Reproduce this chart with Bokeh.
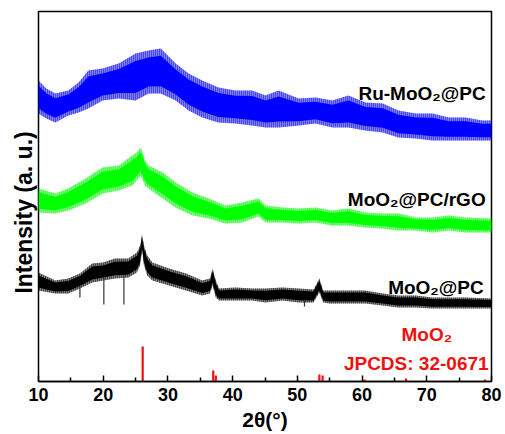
import numpy as np
from bokeh.plotting import figure
from bokeh.models import Range1d, FixedTicker, Label
from bokeh.embed import file_html
from bokeh.resources import INLINE

# ---- data (intensity in arbitrary units) ----
blue_x = [10.0, 11.2, 12.6, 14.6, 16.2, 17.7, 19.9, 22.4, 25.0, 27.0, 28.9, 31.2, 33.2, 35.3, 37.8, 40.4,
          43.0, 45.1, 47.1, 50.2, 52.8, 55.4, 57.9, 60.5, 63.2, 65.6, 68.3, 70.9, 73.4, 76.0, 78.6, 80.0]
blue_hi = [301, 293, 288, 291, 299, 311, 313, 318, 328, 331, 333, 318, 308, 301, 294, 291,
           291, 286, 291, 283, 284, 281, 286, 279, 278, 271, 268, 268, 264, 264, 261, 261]
blue_lo = [268, 263, 259, 266, 269, 273, 281, 283, 281, 288, 288, 281, 271, 264, 259, 258,
           256, 254, 254, 256, 258, 254, 254, 251, 249, 244, 243, 241, 241, 241, 241, 241]

green_x = [10.0, 12.6, 14.6, 17.3, 19.9, 22.4, 24.5, 25.2, 25.8, 26.5, 27.0, 29.2, 31.2, 33.8, 36.3, 38.9,
           41.5, 44.0, 45.1, 47.7, 50.2, 52.8, 55.4, 57.9, 60.5, 63.2, 65.6, 68.3, 70.9, 73.4, 76.0, 80.0]
green_hi = [193, 188, 193, 203, 214, 216, 226, 229, 234, 221, 216, 209, 199, 189, 183, 176,
            179, 183, 176, 174, 173, 174, 171, 173, 169, 168, 168, 164, 164, 166, 164, 163]
green_lo = [169, 168, 171, 178, 188, 191, 196, 201, 206, 196, 193, 183, 174, 166, 163, 158,
            159, 165, 159, 159, 158, 159, 156, 156, 154, 153, 151, 151, 149, 151, 149, 149]

black_x = [10.0, 12.6, 14.6, 16.4, 18.3, 20.0, 21.8, 23.9, 25.2, 25.7, 26.0, 26.3, 26.8, 27.6, 30.2, 32.8,
           35.3, 36.5, 36.9, 37.4, 37.9, 40.4, 43.0, 45.1, 47.7, 50.2, 52.5, 53.4, 54.0, 55.0, 57.9, 60.5,
           63.2, 65.6, 68.3, 70.9, 76.0, 80.0]
black_hi = [109, 101, 103, 108, 118, 119, 123, 123, 129, 136, 147, 136, 126, 119, 113, 108,
            101, 103, 113, 101, 93, 94, 93, 93, 94, 93, 92, 103, 91, 91, 91, 91,
            88, 86, 86, 84, 84, 83]
black_lo = [91, 88, 88, 93, 99, 101, 103, 104, 109, 116, 131, 116, 106, 101, 96, 91,
            86, 88, 96, 84, 81, 81, 81, 79, 81, 79, 79, 89, 79, 78, 78, 78,
            76, 74, 74, 73, 73, 73]

# downward glitches in the MoO2@PC pattern
spike_x = [16.4, 20.1, 23.2, 51.1]
spike_top = [95, 104, 106, 82]
spike_bottom = [84, 77, 77, 75]

# MoO2 reference pattern (JCPDS 32-0671)
ref_x = [26.1, 37.0, 37.4, 53.4, 53.9, 60.4, 66.8, 79.0]
ref_h = [35, 11, 6, 7, 6, 2, 3, 2]

x_ticks = [10, 20, 30, 40, 50, 60, 70, 80]
x_minor = [15, 25, 35, 45, 55, 65, 75]

FONT = "Liberation Sans"

p = figure(width=505, height=434, output_backend="svg", toolbar_location=None,
           x_range=Range1d(10, 80), y_range=Range1d(0, 370),
           min_border_left=38, min_border_right=14, min_border_top=11, min_border_bottom=53)
p.grid.visible = False
p.outline_line_color = "black"
p.outline_line_width = 1.5
p.background_fill_color = "white"
p.border_fill_color = "white"

ax = p.xaxis[0]
ax.ticker = FixedTicker(ticks=x_ticks, minor_ticks=x_minor)
ax.axis_line_width = 1.5
ax.major_tick_in = 6
ax.major_tick_out = 0
ax.minor_tick_in = 4
ax.minor_tick_out = 0
ax.major_tick_line_width = 1.5
ax.minor_tick_line_width = 1.5
ax.major_label_text_font = FONT
ax.major_label_text_font_style = "bold"
ax.major_label_text_font_size = "18px"
ax.major_label_text_color = "black"
ax.major_label_standoff = 6
ax.axis_label = "2\u03b8(\u00b0)"
ax.axis_label_text_font = FONT
ax.axis_label_text_font_style = "bold"
ax.axis_label_text_font_size = "21px"
ax.axis_label_text_color = "black"
ax.axis_label_standoff = 4

ay = p.yaxis[0]
ay.ticker = FixedTicker(ticks=[], minor_ticks=[])
ay.major_tick_in = 0
ay.major_tick_out = 0
ay.minor_tick_in = 0
ay.minor_tick_out = 0
ay.major_label_standoff = 0
ay.axis_line_color = None
ay.axis_label = "Intensity (a. u.)" + "\u00a0" * 5
ay.axis_label_text_font = FONT
ay.axis_label_text_font_style = "bold"
ay.axis_label_text_font_size = "23px"
ay.axis_label_text_color = "black"
ay.axis_label_standoff = 2


def band(xs, hi, lo, color):
    hi = np.array(hi, dtype=float)
    lo = np.array(lo, dtype=float)
    span = hi - lo
    p.varea(x=xs, y1=lo, y2=hi, fill_color=color, fill_alpha=0.5,
            hatch_pattern="vertical_line", hatch_color=color, hatch_scale=2, hatch_weight=1,
            hatch_alpha=0.9)
    p.varea(x=xs, y1=lo + 0.16 * span, y2=hi - 0.16 * span, fill_color=color, fill_alpha=1.0)


band(blue_x, blue_hi, blue_lo, "#0000ff")
band(green_x, green_hi, green_lo, "#00ff00")
band(black_x, black_hi, black_lo, "#000000")
p.segment(x0=spike_x, y0=spike_top, x1=spike_x, y1=spike_bottom, line_color="#333333", line_width=1.2)

p.segment(x0=ref_x, y0=[0] * len(ref_x), x1=ref_x, y1=ref_h, line_color="#f01010", line_width=2.2)

lab = dict(text_font=FONT, text_font_style="bold", text_font_size="19px")
p.add_layout(Label(x=79.1, y=288, text="Ru-MoO\u2082@PC", text_align="right",
                   text_baseline="alphabetic", text_color="black", **lab))
p.add_layout(Label(x=79.1, y=182, text="MoO\u2082@PC/rGO", text_align="right",
                   text_baseline="alphabetic", text_color="black", **lab))
p.add_layout(Label(x=78.8, y=94, text="MoO\u2082@PC", text_align="right",
                   text_baseline="alphabetic", text_color="black", **lab))
p.add_layout(Label(x=70.0, y=47, text="MoO\u2082", text_align="center",
                   text_baseline="alphabetic", text_color="#f01010", **lab))
p.add_layout(Label(x=79.55, y=18, text="JPCDS: 32-0671", text_align="right",
                   text_baseline="alphabetic", text_color="#f01010", **lab))

open("out.html", "w").write(file_html(p, INLINE))
